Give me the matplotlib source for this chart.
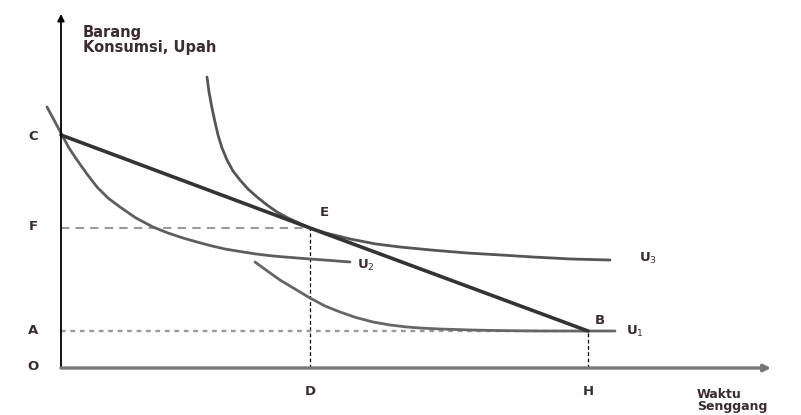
import numpy as np
import matplotlib
matplotlib.use("Agg")
import matplotlib.pyplot as plt

# coordinates (origin O at lower left of the axes)
budget_x = [0, 249, 527]
budget_y = [233, 140, 37]

u3_x = [146, 148, 151, 154, 157, 161, 166, 172, 179, 187, 196, 206, 216,
        227, 238, 249, 265, 289, 315, 339, 370, 406, 440, 472, 510, 549]
u3_y = [291, 276, 260, 246, 233, 220, 208, 197, 188, 179, 171, 163, 156,
        150, 145, 140, 135, 129, 124, 121, 118, 115, 113, 111, 109, 108]

u2_x = [-14, -7, 1, 8, 16, 26, 36, 47, 59, 75, 92, 107, 122, 136, 149,
        164, 179, 195, 212, 230, 249, 270, 289]
u2_y = [261, 248, 233, 220, 208, 194, 181, 170, 161, 150, 141, 135, 130,
        126, 122.5, 119, 116.5, 114, 112, 110.5, 109, 107.5, 106]

u1_x = [194, 205, 219, 234, 249, 264, 279, 295, 312, 329, 346, 362, 379,
        410, 440, 480, 520, 554]
u1_y = [106, 98, 88, 79, 70, 62, 56, 50.5, 46, 43, 41, 39.8, 39, 38, 37.4,
        37, 37, 37]

point_E = (249, 140)
point_B = (527, 37)

axis_labels = ["O", "A", "F", "C"]
axis_label_y = [2, 37, 142, 232]

curve_labels = ["U$_1$", "U$_2$", "U$_3$"]
curve_label_pos = [(565, 37), (296, 103), (578, 110)]

txt = "#3c2a32"
fs = 9.5

fig = plt.figure(figsize=(8.01, 4.15), dpi=100)
ax = fig.add_axes([0, 0, 1, 1])
ax.set_xlim(-61, 740)
ax.set_ylim(-47, 368)
ax.axis("off")

# axes with arrows
ax.annotate("", xy=(0, 354), xytext=(0, 0),
            arrowprops=dict(arrowstyle="-|>", color="black", lw=1.3,
                            mutation_scale=10, shrinkA=0, shrinkB=0))
ax.annotate("", xy=(710, 0), xytext=(0, 0),
            arrowprops=dict(arrowstyle="-|>", color="#777777", lw=2.4,
                            mutation_scale=10, shrinkA=0, shrinkB=0))

# guide lines
ax.plot([0, point_E[0]], [point_E[1], point_E[1]], color="#9a9a9a",
        lw=1.5, ls=(0, (4, 3)))
ax.plot([point_E[0], point_E[0]], [0, point_E[1]], color="black",
        lw=0.9, ls=(0, (3, 2)))
ax.plot([0, point_B[0]], [point_B[1], point_B[1]], color="#9a9a9a",
        lw=1.7, ls=(0, (2, 2)))
ax.plot([point_B[0], point_B[0]], [0, point_B[1]], color="black",
        lw=0.9, ls=(0, (3, 2)))

# indifference curves and budget line
ax.plot(u3_x, u3_y, color="#555555", lw=2.0, solid_capstyle="round",
        solid_joinstyle="round")
ax.plot(u2_x, u2_y, color="#5e5e5e", lw=2.0, solid_capstyle="round",
        solid_joinstyle="round")
ax.plot(u1_x, u1_y, color="#666666", lw=2.0, solid_capstyle="round",
        solid_joinstyle="round")
ax.plot(budget_x, budget_y, color="#333333", lw=2.6, solid_capstyle="round")

# labels
for lab, yy in zip(axis_labels, axis_label_y):
    ax.text(-28, yy, lab, ha="center", va="center", fontsize=fs,
            fontweight="bold", color=txt)
ax.text(point_E[0], -23, "D", ha="center", va="center", fontsize=fs,
        fontweight="bold", color=txt)
ax.text(point_B[0], -23, "H", ha="center", va="center", fontsize=fs,
        fontweight="bold", color=txt)
ax.text(point_E[0] + 14, point_E[1] + 15, "E", ha="center", va="center",
        fontsize=fs, fontweight="bold", color=txt)
ax.text(point_B[0] + 12, point_B[1] + 10, "B", ha="center", va="center",
        fontsize=fs, fontweight="bold", color=txt)
for lab, (xx, yy) in zip(curve_labels, curve_label_pos):
    ax.text(xx, yy, lab, ha="left", va="center", fontsize=fs,
            fontweight="bold", color=txt)

ax.text(22, 343, "Barang\nKonsumsi, Upah", ha="left", va="top",
        fontsize=10.5, fontweight="bold", color=txt, linespacing=1.0)
ax.text(636, -45, "Waktu\nSenggang", ha="left", va="bottom",
        fontsize=9, fontweight="bold", color=txt, linespacing=0.95)

fig.savefig("out.png", dpi=100)
